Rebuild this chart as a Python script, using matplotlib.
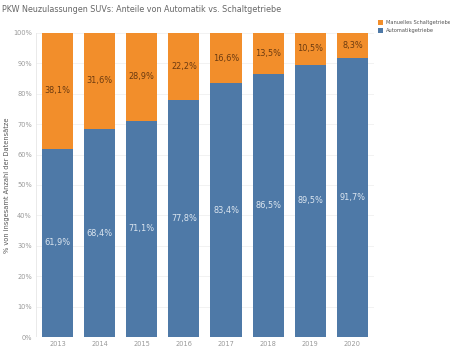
import matplotlib.pyplot as plt
import numpy as np

# Daten
jahre = ['2013', '2014', '2015', '2016', '2017', '2018', '2019', '2020']
automatik = [61.9, 68.4, 71.1, 77.8, 83.4, 86.5, 89.5, 91.7]
manuell = [38.1, 31.6, 28.9, 22.2, 16.6, 13.5, 10.5, 8.3]

blau = '#4e79a7'
orange = '#f28e2b'

fig = plt.figure(figsize=(4.5, 3.5), dpi=100)
ax = fig.add_axes([0.08, 0.037, 0.751, 0.869])

x = np.arange(len(jahre))
ax.bar(x, automatik, width=0.74, color=blau, label='Automatikgetriebe')
ax.bar(x, manuell, width=0.74, bottom=automatik, color=orange, label='Manuelles Schaltgetriebe')

def fmt(v):
    return ('%.1f%%' % v).replace('.', ',')

for i in range(len(jahre)):
    ax.text(x[i], automatik[i] / 2, fmt(automatik[i]), ha='center', va='center',
            fontsize=5.9, color='#dce6f0')
    ax.text(x[i], automatik[i] + manuell[i] / 2, fmt(manuell[i]), ha='center', va='center',
            fontsize=5.9, color='#6b3a10')

ax.set_xlim(-0.51, len(jahre) - 0.49)
ax.set_ylim(0, 100)
ax.set_xticks(x)
ax.set_xticklabels(jahre)
ax.set_yticks(np.arange(0, 101, 10))
ax.set_yticklabels(['%d%%' % v for v in range(0, 101, 10)])
ax.tick_params(axis='both', labelsize=4.8, colors='#999999', length=0, pad=3)
ax.grid(axis='y', color='#f0f0f0', linewidth=0.6)
ax.set_axisbelow(True)
for s in ax.spines.values():
    s.set_visible(False)
ax.axvline(-0.51, color='#e6e6e6', linewidth=0.6)

ax.set_ylabel('% von insgesamt Anzahl der Datensätze', fontsize=4.8, color='#555555')
ax.yaxis.set_label_coords(-0.077, 0.5)

fig.text(0.005, 0.974, 'PKW Neuzulassungen SUVs: Anteile von Automatik vs. Schaltgetriebe',
         fontsize=5.8, color='#666666', va='center')

h, l = ax.get_legend_handles_labels()
fig.legend(h[::-1], l[::-1], loc='upper left', bbox_to_anchor=(0.84, 0.943), frameon=False,
           fontsize=3.7, handlelength=1.0, handleheight=1.0, handletextpad=0.6,
           labelspacing=0.65, borderaxespad=0, borderpad=0, labelcolor='#555555')

fig.savefig('out.png', dpi=100)
